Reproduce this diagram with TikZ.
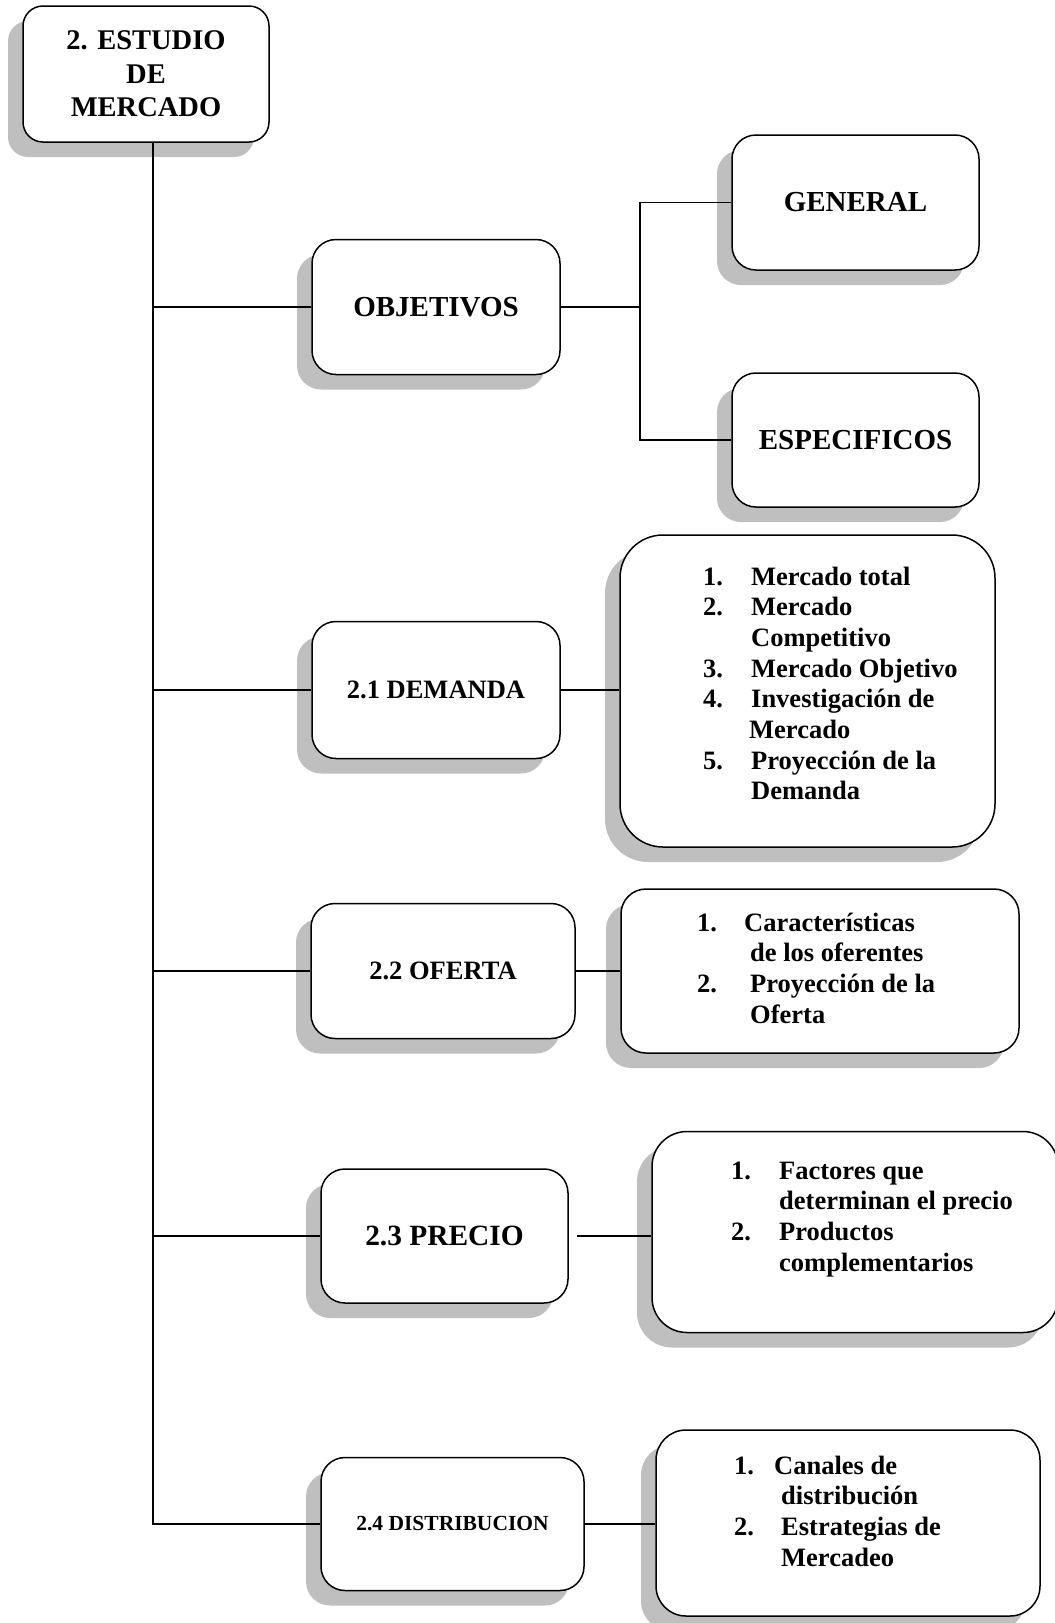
\documentclass[tikz,border=0pt]{standalone}
\usepackage{fontspec}
\setmainfont{Liberation Serif}
\usetikzlibrary{shadows,calc}
\tikzset{
  box/.style={draw, line width=1.5pt, fill=white, rounded corners=#1, inner sep=0pt,
    align=center, font=\bfseries,
    drop shadow={shadow xshift=-15pt, shadow yshift=-15pt, fill=black!25, opacity=1}},
  box/.default=24pt,
  link/.style={line width=1.2pt},
  listtext/.style={anchor=base west, inner sep=0pt, font=\bfseries\fontsize{26.5}{30.7}\selectfont}
}
\newcommand{\num}[2]{\makebox[#1][l]{#2}}
\begin{document}
\begin{tikzpicture}[x=1pt,y=-1pt]
\useasboundingbox (0,0) rectangle (1055,1623);
% main
\node[box=20pt, minimum width=246pt, minimum height=136pt, font=\bfseries\fontsize{28.5}{33.5}\selectfont] (main) at (146,74) {2. ESTUDIO\\DE\\MERCADO};
% objetivos
\node[box, minimum width=248pt, minimum height=135pt, font=\bfseries\fontsize{29}{33}\selectfont] (obj) at (436,307) {OBJETIVOS};
\node[box, minimum width=247pt, minimum height=135pt, font=\bfseries\fontsize{29}{33}\selectfont] (gen) at (855.5,202.5) {GENERAL};
\node[box, minimum width=247pt, minimum height=134pt, font=\bfseries\fontsize{29}{33}\selectfont] (esp) at (855.5,440) {ESPECIFICOS};
% demanda
\node[box, minimum width=248pt, minimum height=137pt, font=\bfseries\fontsize{26.5}{30}\selectfont] (dem) at (436,690) {2.1 DEMANDA};
\node[box=43pt, minimum width=375pt, minimum height=312pt] (deml) at (807.5,691) {};
\node[listtext] (demt) at (703,585) {\begin{tabular}[t]{@{}l@{}}
\num{48pt}{1.}Mercado total\\
\num{48pt}{2.}Mercado\\
\hspace*{48pt}Competitivo\\
\num{48pt}{3.}Mercado Objetivo\\
\num{48pt}{4.}Investigación de\\
\hspace*{46pt}Mercado\\
\num{48pt}{5.}Proyección de la\\
\hspace*{48pt}Demanda
\end{tabular}};
% oferta
\node[box, minimum width=264pt, minimum height=135pt, font=\bfseries\fontsize{26.5}{30}\selectfont] (ofe) at (443,971) {2.2 OFERTA};
\node[box=25pt, minimum width=398pt, minimum height=164pt] (ofel) at (820,971) {};
\node[listtext] (ofet) at (697,931) {\begin{tabular}[t]{@{}l@{}}
\num{47pt}{1.}Características\\
\hspace*{53pt}de los oferentes\\
\num{53pt}{2.}Proyección de la\\
\hspace*{53pt}Oferta
\end{tabular}};
% precio
\node[box, minimum width=247pt, minimum height=134pt, font=\bfseries\fontsize{29.4}{33}\selectfont] (pre) at (444.5,1236) {2.3 PRECIO};
\node[box=35pt, minimum width=406pt, minimum height=201pt] (prel) at (855,1232) {};
\node[listtext] (pret) at (731,1179) {\begin{tabular}[t]{@{}l@{}}
\num{48pt}{1.}Factores que\\
\hspace*{48pt}determinan el precio\\
\num{48pt}{2.}Productos\\
\hspace*{48pt}complementarios
\end{tabular}};
% distribucion
\node[box, minimum width=263pt, minimum height=133pt, font=\bfseries\fontsize{21.5}{25}\selectfont] (dis) at (452.5,1524) {2.4 DISTRIBUCION};
\node[box=30pt, minimum width=384pt, minimum height=186pt] (disl) at (848,1523) {};
\node[listtext] (dist) at (734,1474) {\begin{tabular}[t]{@{}l@{}}
\num{40pt}{1.}Canales de\\
\hspace*{47pt}distribución\\
\num{47pt}{2.}Estrategias de\\
\hspace*{47pt}Mercadeo
\end{tabular}};
% connectors
\coordinate (trunk) at (153,1524);
\coordinate (ob) at (640,307);
\draw[link] (main.south -| trunk) -- (trunk) -- (dis.west);
\draw[link] (trunk |- obj.west) -- (obj.west);
\draw[link] (trunk |- dem.west) -- (dem.west);
\draw[link] (trunk |- ofe.west) -- (ofe.west);
\draw[link] (trunk |- pre.west) -- (pre.west);
\draw[link] (obj.east) -- (ob);
\draw[link] (gen.west) -- (gen.west -| ob) -- (esp.west -| ob) -- (esp.west);
\draw[link] (dem.east) -- (dem.east -| deml.west);
\draw[link] (ofe.east) -- (ofe.east -| ofel.west);
\draw[link] ([xshift=8pt]pre.east) -- (pre.east -| prel.west);
\draw[link] (dis.east) -- (dis.east -| disl.west);
\end{tikzpicture}
\end{document}
